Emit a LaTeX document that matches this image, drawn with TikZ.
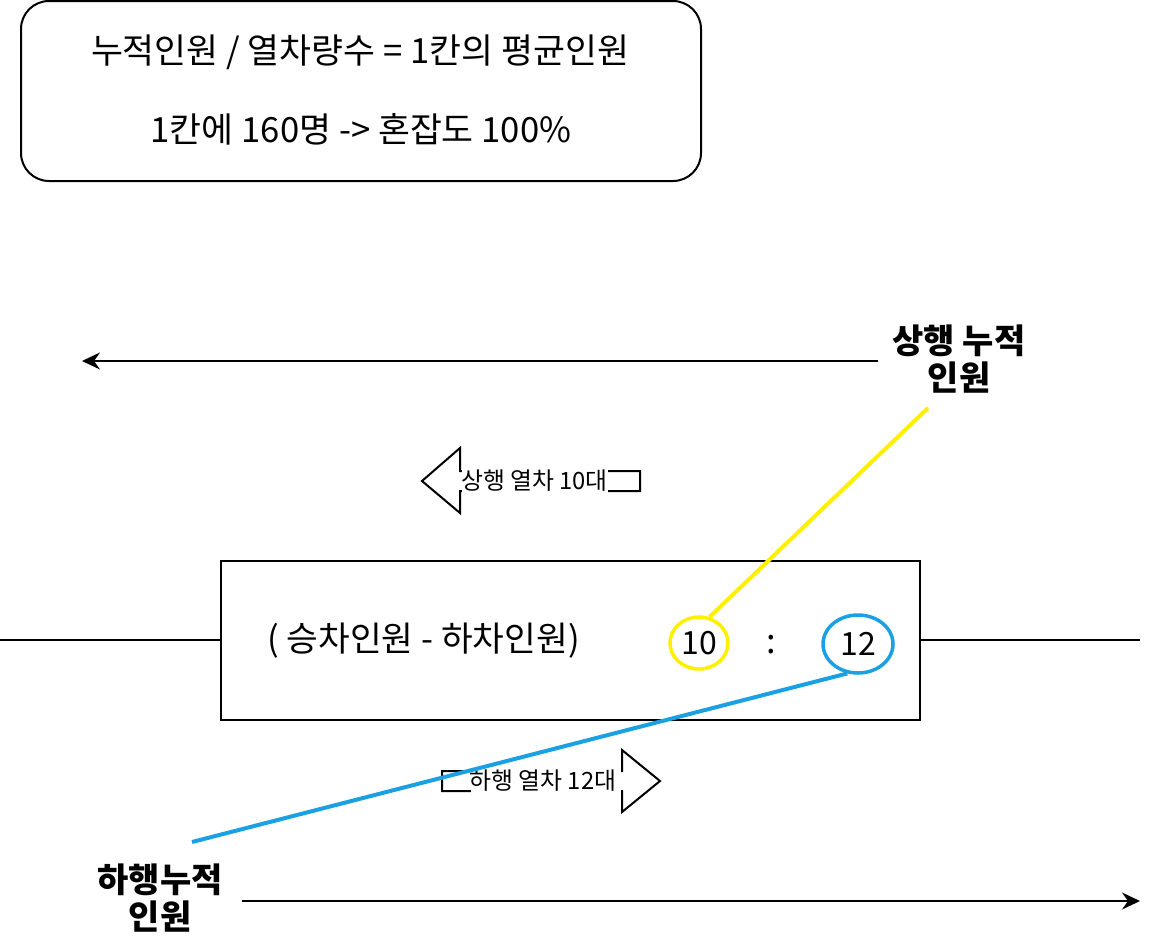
\documentclass[tikz,border=0pt]{standalone}
\usepackage{fontspec}
\setmainfont{Noto Sans CJK KR}
\usetikzlibrary{arrows.meta,shapes.geometric}
\definecolor{markyellow}{RGB}{255,240,0}
\definecolor{markblue}{RGB}{27,161,226}
\tikzset{
  thinline/.style={line width=2pt, black},
  flow/.style={thinline, -{Stealth[length=18pt,width=17pt,inset=6pt]}},
  bigtext/.style={font=\fontsize{34.7}{40}\selectfont, inner sep=0pt},
  midtext/.style={font=\fontsize{34.5}{40}\selectfont, inner sep=0pt},
  smalltext/.style={font=\fontsize{23.8}{28}\selectfont, inner sep=0pt},
  boldlabel/.style={font=\bfseries\fontsize{34}{37}\selectfont, align=center, inner sep=0pt},
  ring/.style={ellipse, line width=3.5pt, inner sep=0pt, font=\fontsize{32}{36}\selectfont},
  pointer/.style={line width=4pt}
}
\begin{document}
\begin{tikzpicture}[x=1pt,y=-1pt]
\useasboundingbox (0,0) rectangle (1158,940);

% info box
\node[draw, thinline, rounded corners=28pt, minimum width=680pt, minimum height=180pt] (info) at (361,91) {};
\node[bigtext] (l1) at (360,52) {누적인원 / 열차량수 = 1칸의 평균인원};
\node[bigtext] (l2) at (361,129) {1칸에 160명 -> 혼잡도 100\%};

% top flow arrow
\coordinate (ta1) at (878,361);
\coordinate (ta2) at (82,361);
\draw[flow] (ta1) -- (ta2);
\node[boldlabel] (uplab) at (959,359.5) {상행 누적\\인원};

% up train block arrow
\draw[thinline, line join=miter] (422,481) -- (460,448) -- (460,471) -- (640,471) -- (640,491) -- (460,491) -- (460,513) -- cycle;
\fill[white] (461.5,468) rectangle (607.5,494);
\node[smalltext] (uptrain) at (534.5,481) {상행 열차 10대};

% main box and side lines
\node[draw, thinline, minimum width=699pt, minimum height=159pt] (main) at (570.5,640) {};
\coordinate (ll) at (0,640);
\coordinate (rr) at (1140,640);
\draw[thinline] (ll) -- (main.west);
\draw[thinline] (main.east) -- (rr);
\node[midtext] (formula) at (423.5,641) {( 승차인원 - 하차인원)};
\node[draw=markyellow, ring, minimum width=58pt, minimum height=52pt] (c10) at (699,643) {10};
\node[midtext] (colon) at (771,645) {:};
\node[draw=markblue, ring, minimum width=70pt, minimum height=58pt] (c12) at (858,644) {12};

% down train block arrow
\draw[thinline, line join=miter] (442,771) -- (622,771) -- (622,750) -- (660,781) -- (622,812) -- (622,791) -- (442,791) -- cycle;
\fill[white] (470.5,768) rectangle (620.5,794);
\node[smalltext] (downtrain) at (543,781) {하행 열차 12대};

% pointers
\coordinate (yend) at (928,408);
\draw[pointer, markyellow] (yend) -- (c10.68);
\coordinate (bend) at (192,842);
\draw[pointer, markblue] (c12.250) -- (bend);

% bottom flow arrow
\coordinate (ba1) at (242,901);
\coordinate (ba2) at (1140,901);
\draw[flow] (ba1) -- (ba2);
\node[boldlabel] (downlab) at (160,898.5) {하행누적\\인원};
\end{tikzpicture}
\end{document}
